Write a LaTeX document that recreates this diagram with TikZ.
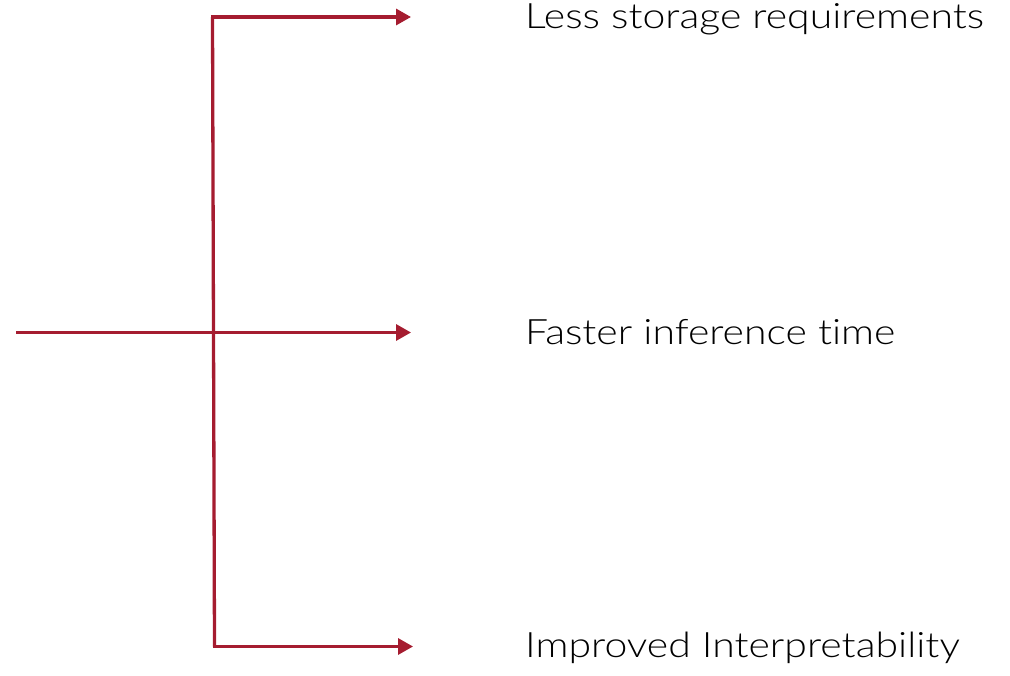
\documentclass[tikz,border=0pt]{standalone}
\usepackage{fontspec}
\setmainfont{Lato}[UprightFont=* Light, Ligatures=NoCommon, FakeStretch=1.17]
\usetikzlibrary{arrows.meta}
\definecolor{crimson}{HTML}{A51C30}
\tikzset{
  branch/.style={draw=crimson, line width=3.3pt, -{Triangle[length=15pt,width=16pt]}},
  trunk/.style={draw=crimson, line width=3.3pt},
  label/.style={anchor=base west, inner sep=0pt, font=\fontsize{35}{40}\selectfont, text=black}
}
\begin{document}
\begin{tikzpicture}[x=1pt,y=-1pt]
  \useasboundingbox (0,0) rectangle (1010,676);
  % junction points on the vertical spine
  \coordinate (in)  at (16,332.5);
  \coordinate (top) at (212.5,17);
  \coordinate (mid) at (213.5,332.5);
  \coordinate (bot) at (214.5,646.5);
  % arrow targets
  \coordinate (ttop) at (411,17);
  \coordinate (tmid) at (411,332.5);
  \coordinate (tbot) at (413,646.5);
  % labels
  \node[label] (l1) at (525,28.5) {Less storage requirements};
  \node[label] (l2) at (525,344.5) {Faster inference time};
  \node[label] (l3) at (525,657.5) {Improved Interpretability};
  % connectors
  \draw[trunk] (in) -- (mid);
  \draw[trunk] (top) -- (bot);
  \draw[branch] ([xshift=-1.65pt]top) -- (ttop);
  \draw[branch] (mid) -- (tmid);
  \draw[branch] ([xshift=-1.65pt]bot) -- (tbot);
\end{tikzpicture}
\end{document}
